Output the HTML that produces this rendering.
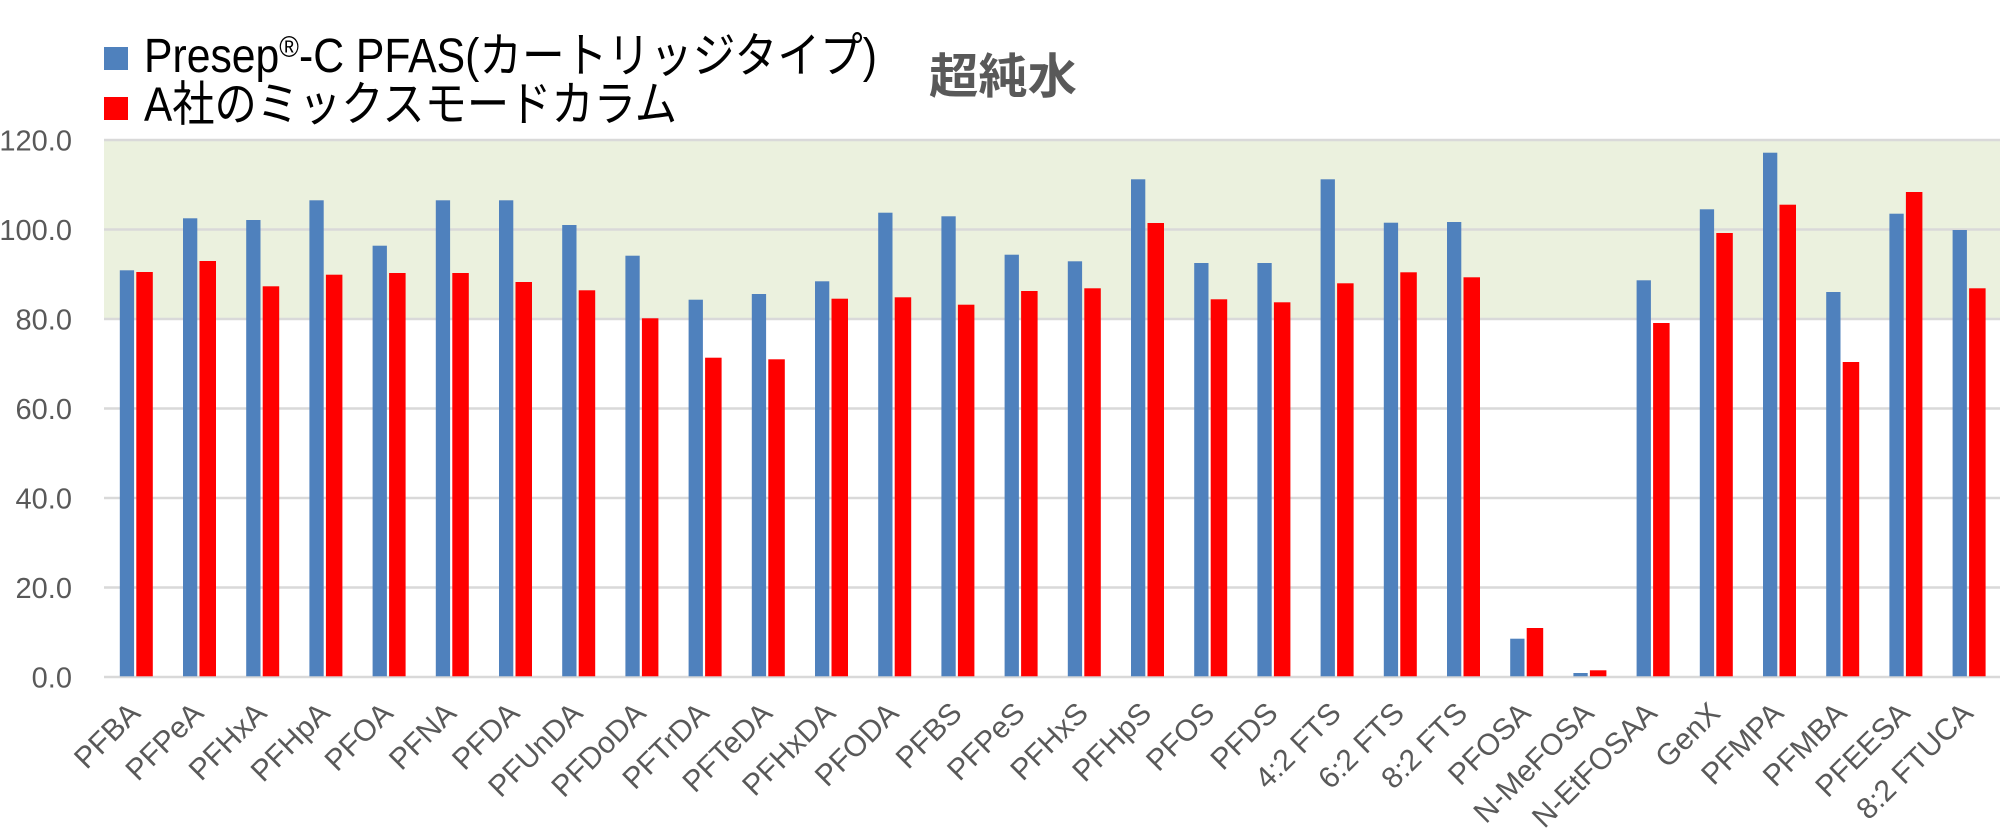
<!DOCTYPE html>
<html><head><meta charset="utf-8"><style>
html,body{margin:0;padding:0;background:#fff;}
svg{display:block;}
text{font-family:"Liberation Sans","Noto Sans CJK JP",sans-serif;}
</style></head><body>
<svg width="2000" height="839" viewBox="0 0 2000 839" xmlns="http://www.w3.org/2000/svg">
<rect x="0" y="0" width="2000" height="839" fill="#fff"/>
<rect x="104" y="140" width="1896" height="179" fill="#ebf1de"/>
<g stroke="#d9d9d9" stroke-width="2.4">
<line x1="104" y1="140" x2="2000" y2="140"/>
<line x1="104" y1="229.5" x2="2000" y2="229.5"/>
<line x1="104" y1="319" x2="2000" y2="319"/>
<line x1="104" y1="408.5" x2="2000" y2="408.5"/>
<line x1="104" y1="498" x2="2000" y2="498"/>
<line x1="104" y1="587.5" x2="2000" y2="587.5"/>
<line x1="104" y1="677" x2="2000" y2="677"/>
</g>
<g fill="#595959" font-size="29" text-anchor="end">
<text x="72" y="150.5">120.0</text>
<text x="72" y="240">100.0</text>
<text x="72" y="329.5">80.0</text>
<text x="72" y="419">60.0</text>
<text x="72" y="508.5">40.0</text>
<text x="72" y="598">20.0</text>
<text x="72" y="687.5">0.0</text>
</g>
<g fill="#4f81bd">
<rect x="119.8" y="270.3" width="14.3" height="406"/>
<rect x="183.0" y="218.3" width="14.3" height="458"/>
<rect x="246.2" y="220" width="14.3" height="456.3"/>
<rect x="309.4" y="200.3" width="14.3" height="476"/>
<rect x="372.6" y="245.7" width="14.3" height="430.6"/>
<rect x="435.8" y="200.3" width="14.3" height="476"/>
<rect x="499.0" y="200.3" width="14.3" height="476"/>
<rect x="562.2" y="225" width="14.3" height="451.3"/>
<rect x="625.4" y="255.7" width="14.3" height="420.6"/>
<rect x="688.6" y="299.7" width="14.3" height="376.6"/>
<rect x="751.8" y="294" width="14.3" height="382.3"/>
<rect x="815.0" y="281.3" width="14.3" height="395"/>
<rect x="878.2" y="212.7" width="14.3" height="463.6"/>
<rect x="941.4" y="216.3" width="14.3" height="460"/>
<rect x="1004.6" y="254.7" width="14.3" height="421.6"/>
<rect x="1067.8" y="261.3" width="14.3" height="415"/>
<rect x="1131.0" y="179.3" width="14.3" height="497"/>
<rect x="1194.2" y="263" width="14.3" height="413.3"/>
<rect x="1257.4" y="263" width="14.3" height="413.3"/>
<rect x="1320.6" y="179.3" width="14.3" height="497"/>
<rect x="1383.8" y="222.7" width="14.3" height="453.6"/>
<rect x="1447.0" y="222" width="14.3" height="454.3"/>
<rect x="1510.2" y="638.7" width="14.3" height="37.6"/>
<rect x="1573.4" y="673" width="14.3" height="3.3"/>
<rect x="1636.6" y="280.3" width="14.3" height="396"/>
<rect x="1699.8" y="209.3" width="14.3" height="467"/>
<rect x="1763.0" y="152.7" width="14.3" height="523.6"/>
<rect x="1826.2" y="292" width="14.3" height="384.3"/>
<rect x="1889.4" y="213.7" width="14.3" height="462.6"/>
<rect x="1952.6" y="230" width="14.3" height="446.3"/>
</g>
<g fill="#ff0000">
<rect x="136.3" y="272" width="16.5" height="404.3"/>
<rect x="199.5" y="261" width="16.5" height="415.3"/>
<rect x="262.7" y="286.3" width="16.5" height="390"/>
<rect x="325.9" y="274.7" width="16.5" height="401.6"/>
<rect x="389.1" y="273" width="16.5" height="403.3"/>
<rect x="452.3" y="273" width="16.5" height="403.3"/>
<rect x="515.5" y="282" width="16.5" height="394.3"/>
<rect x="578.7" y="290.3" width="16.5" height="386"/>
<rect x="641.9" y="318.3" width="16.5" height="358"/>
<rect x="705.1" y="357.7" width="16.5" height="318.6"/>
<rect x="768.3" y="359.3" width="16.5" height="317"/>
<rect x="831.5" y="298.7" width="16.5" height="377.6"/>
<rect x="894.7" y="297.3" width="16.5" height="379"/>
<rect x="957.9" y="304.7" width="16.5" height="371.6"/>
<rect x="1021.1" y="291" width="16.5" height="385.3"/>
<rect x="1084.3" y="288.3" width="16.5" height="388"/>
<rect x="1147.5" y="223" width="16.5" height="453.3"/>
<rect x="1210.7" y="299.3" width="16.5" height="377"/>
<rect x="1273.9" y="302.3" width="16.5" height="374"/>
<rect x="1337.1" y="283.3" width="16.5" height="393"/>
<rect x="1400.3" y="272.3" width="16.5" height="404"/>
<rect x="1463.5" y="277.3" width="16.5" height="399"/>
<rect x="1526.7" y="628" width="16.5" height="48.3"/>
<rect x="1589.9" y="670.3" width="16.5" height="6"/>
<rect x="1653.1" y="323" width="16.5" height="353.3"/>
<rect x="1716.3" y="233" width="16.5" height="443.3"/>
<rect x="1779.5" y="204.7" width="16.5" height="471.6"/>
<rect x="1842.7" y="362" width="16.5" height="314.3"/>
<rect x="1905.9" y="192" width="16.5" height="484.3"/>
<rect x="1969.1" y="288.3" width="16.5" height="388"/>
</g>
<g fill="#595959" font-size="30" text-anchor="end">
<text transform="translate(141.9,715) rotate(-45)">PFBA</text>
<text transform="translate(205.1,715) rotate(-45)">PFPeA</text>
<text transform="translate(268.3,715) rotate(-45)">PFHxA</text>
<text transform="translate(331.5,715) rotate(-45)">PFHpA</text>
<text transform="translate(394.7,715) rotate(-45)">PFOA</text>
<text transform="translate(457.9,715) rotate(-45)">PFNA</text>
<text transform="translate(521.1,715) rotate(-45)">PFDA</text>
<text transform="translate(584.3,715) rotate(-45)">PFUnDA</text>
<text transform="translate(647.5,715) rotate(-45)">PFDoDA</text>
<text transform="translate(710.7,715) rotate(-45)">PFTrDA</text>
<text transform="translate(773.9,715) rotate(-45)">PFTeDA</text>
<text transform="translate(837.1,715) rotate(-45)">PFHxDA</text>
<text transform="translate(900.3,715) rotate(-45)">PFODA</text>
<text transform="translate(963.5,715) rotate(-45)">PFBS</text>
<text transform="translate(1026.7,715) rotate(-45)">PFPeS</text>
<text transform="translate(1089.9,715) rotate(-45)">PFHxS</text>
<text transform="translate(1153.1,715) rotate(-45)">PFHpS</text>
<text transform="translate(1216.3,715) rotate(-45)">PFOS</text>
<text transform="translate(1279.5,715) rotate(-45)">PFDS</text>
<text transform="translate(1342.7,715) rotate(-45)">4:2 FTS</text>
<text transform="translate(1405.9,715) rotate(-45)">6:2 FTS</text>
<text transform="translate(1469.1,715) rotate(-45)">8:2 FTS</text>
<text transform="translate(1532.3,715) rotate(-45)">PFOSA</text>
<text transform="translate(1595.5,715) rotate(-45)">N-MeFOSA</text>
<text transform="translate(1658.7,715) rotate(-45)">N-EtFOSAA</text>
<text transform="translate(1721.9,715) rotate(-45)">GenX</text>
<text transform="translate(1785.1,715) rotate(-45)">PFMPA</text>
<text transform="translate(1848.3,715) rotate(-45)">PFMBA</text>
<text transform="translate(1911.5,715) rotate(-45)">PFEESA</text>
<text transform="translate(1974.7,715) rotate(-45)">8:2 FTUCA</text>
</g>
<rect x="104" y="47" width="24" height="23" fill="#4f81bd"/>
<rect x="104" y="97" width="24" height="23" fill="#ff0000"/>
<text x="144" y="72" font-size="48" fill="#000" textLength="733" lengthAdjust="spacingAndGlyphs">Presep<tspan font-size="30" dy="-15">®</tspan><tspan dy="15">-C PFAS(カートリッジタイプ)</tspan></text>
<text x="144" y="120.5" font-size="48" fill="#000" textLength="533" lengthAdjust="spacingAndGlyphs">A社のミックスモードカラム</text>
<text x="929" y="93" font-size="48" font-weight="bold" fill="#595959" textLength="148" lengthAdjust="spacingAndGlyphs">超純水</text>
</svg>
</body></html>
